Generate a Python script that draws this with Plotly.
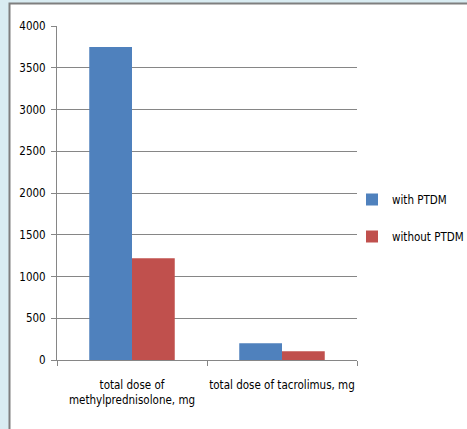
import plotly.graph_objects as go

categories = ["total dose of<br>methylprednisolone, mg", "total dose of tacrolimus, mg"]
with_ptdm = [3750, 200]
without_ptdm = [1220, 105]
series_names = ["with PTDM", "without PTDM"]
y_ticks = [0, 500, 1000, 1500, 2000, 2500, 3000, 3500, 4000]

FONT = "DejaVu Sans Condensed, Liberation Sans, sans-serif"
FS = 11.5

fig = go.Figure()
fig.add_trace(go.Bar(x=categories, y=with_ptdm, name=series_names[0],
                     marker=dict(color="#4f81bd", line=dict(width=0)), legendgroup="a"))
fig.add_trace(go.Bar(x=categories, y=without_ptdm, name=series_names[1],
                     marker=dict(color="#c0504d", line=dict(width=0)), legendgroup="b"))

W, H = 467, 429
L, R, T, B = 57, 110, 26, 69
pw, ph = W - L - R, H - T - B

def px2x(px):
    return (px - L) / pw

def py2y(py):
    return (H - B - py) / ph

fig.add_shape(type="rect", xref="paper", yref="paper",
              x0=px2x(9.5), x1=px2x(W + 5), y0=py2y(H + 5), y1=py2y(3.5),
              fillcolor="white", line=dict(color="#7f7f7f", width=2), layer="below")

fig.update_layout(
    width=W, height=H,
    margin=dict(l=L, r=R, t=T, b=B, autoexpand=False),
    paper_bgcolor="#d9ecf2",
    plot_bgcolor="white",
    barmode="group",
    bargap=0.43,
    bargroupgap=0,
    font=dict(family=FONT, size=FS, color="#000000"),
    legend=dict(x=px2x(352), y=py2y(218), xanchor="left", yanchor="middle",
                traceorder="grouped", tracegroupgap=18,
                font=dict(family=FONT, size=FS, color="#000000"),
                bgcolor="rgba(0,0,0,0)", itemwidth=30),
    xaxis=dict(showgrid=False, showline=True, linecolor="#868686", linewidth=1,
               ticks="outside", ticklen=5, tickcolor="#868686", tickson="boundaries",
               tickangle=0, automargin=False, ticklabelstandoff=14,
               tickfont=dict(family=FONT, size=FS)),
    yaxis=dict(range=[0, 4000], tickvals=y_ticks, showgrid=True, gridcolor="#868686",
               gridwidth=1, showline=True, linecolor="#868686", linewidth=1,
               ticks="outside", ticklen=5, tickcolor="#868686", zeroline=False,
               automargin=False, ticklabelstandoff=3,
               tickfont=dict(family=FONT, size=FS)),
)

fig.write_html("out.html", config={"displayModeBar": False},
               post_script="document.body.style.margin='0';")
